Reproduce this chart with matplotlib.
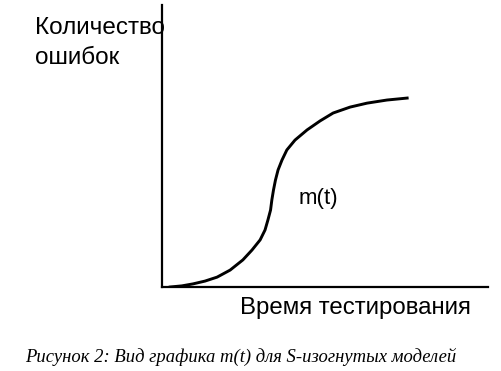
import matplotlib.pyplot as plt

# S-shaped curve m(t) (arbitrary units, 0..100)
t = [2.5, 6.1, 9.5, 13.2, 16.9, 20.9, 24.8, 27.6, 30.1, 31.6, 32.5, 33.3, 33.7,
     34.2, 34.8, 35.6, 36.8, 38.3, 40.8, 44.5, 48.5, 52.5, 57.7, 62.9, 69.0, 75.2]
m = [0.0, 0.4, 1.1, 2.1, 3.5, 6.0, 9.6, 13.1, 16.7, 20.2, 23.8, 27.3, 30.9,
     34.4, 37.9, 41.5, 45.0, 48.6, 52.1, 55.7, 58.9, 61.7, 63.8, 65.2, 66.3, 67.0]

ylabel = 'Количество\nошибок'
xlabel = 'Время тестирования'
curve_label = 'm(t)'
caption = 'Рисунок 2: Вид графика m(t) для S-изогнутых моделей'

W, H = 501, 371
fig = plt.figure(figsize=(W / 100, H / 100), dpi=100)
ax = fig.add_axes([162 / W, 1 - 287 / H, (488 - 162) / W, (287 - 5) / H])
ax.set_zorder(2)
ax.patch.set_alpha(0)

ax.plot(t, m, color='black', lw=2.1, solid_joinstyle='round')
ax.set_xlim(0, 100)
ax.set_ylim(0, 100)
ax.set_xticks([])
ax.set_yticks([])
for side in ['top', 'right']:
    ax.spines[side].set_visible(False)
for side in ['left', 'bottom']:
    ax.spines[side].set_linewidth(1.6)

ax.text(42.0, 31.5, curve_label, fontsize=16, family='Liberation Sans', va='center')

fig.text(35 / W, 1 - 17 / H, ylabel, fontsize=17.5, family='Liberation Sans',
         va='top', ha='left', linespacing=1.45, zorder=1)
fig.text(240 / W, 1 - 308 / H, xlabel, fontsize=17.3, family='Liberation Sans',
         va='center', ha='left')
fig.text(25 / W, 1 - 357 / H, caption, fontsize=13.4, family='Liberation Serif',
         style='italic', va='center', ha='left')

fig.savefig('out.png', dpi=100)
